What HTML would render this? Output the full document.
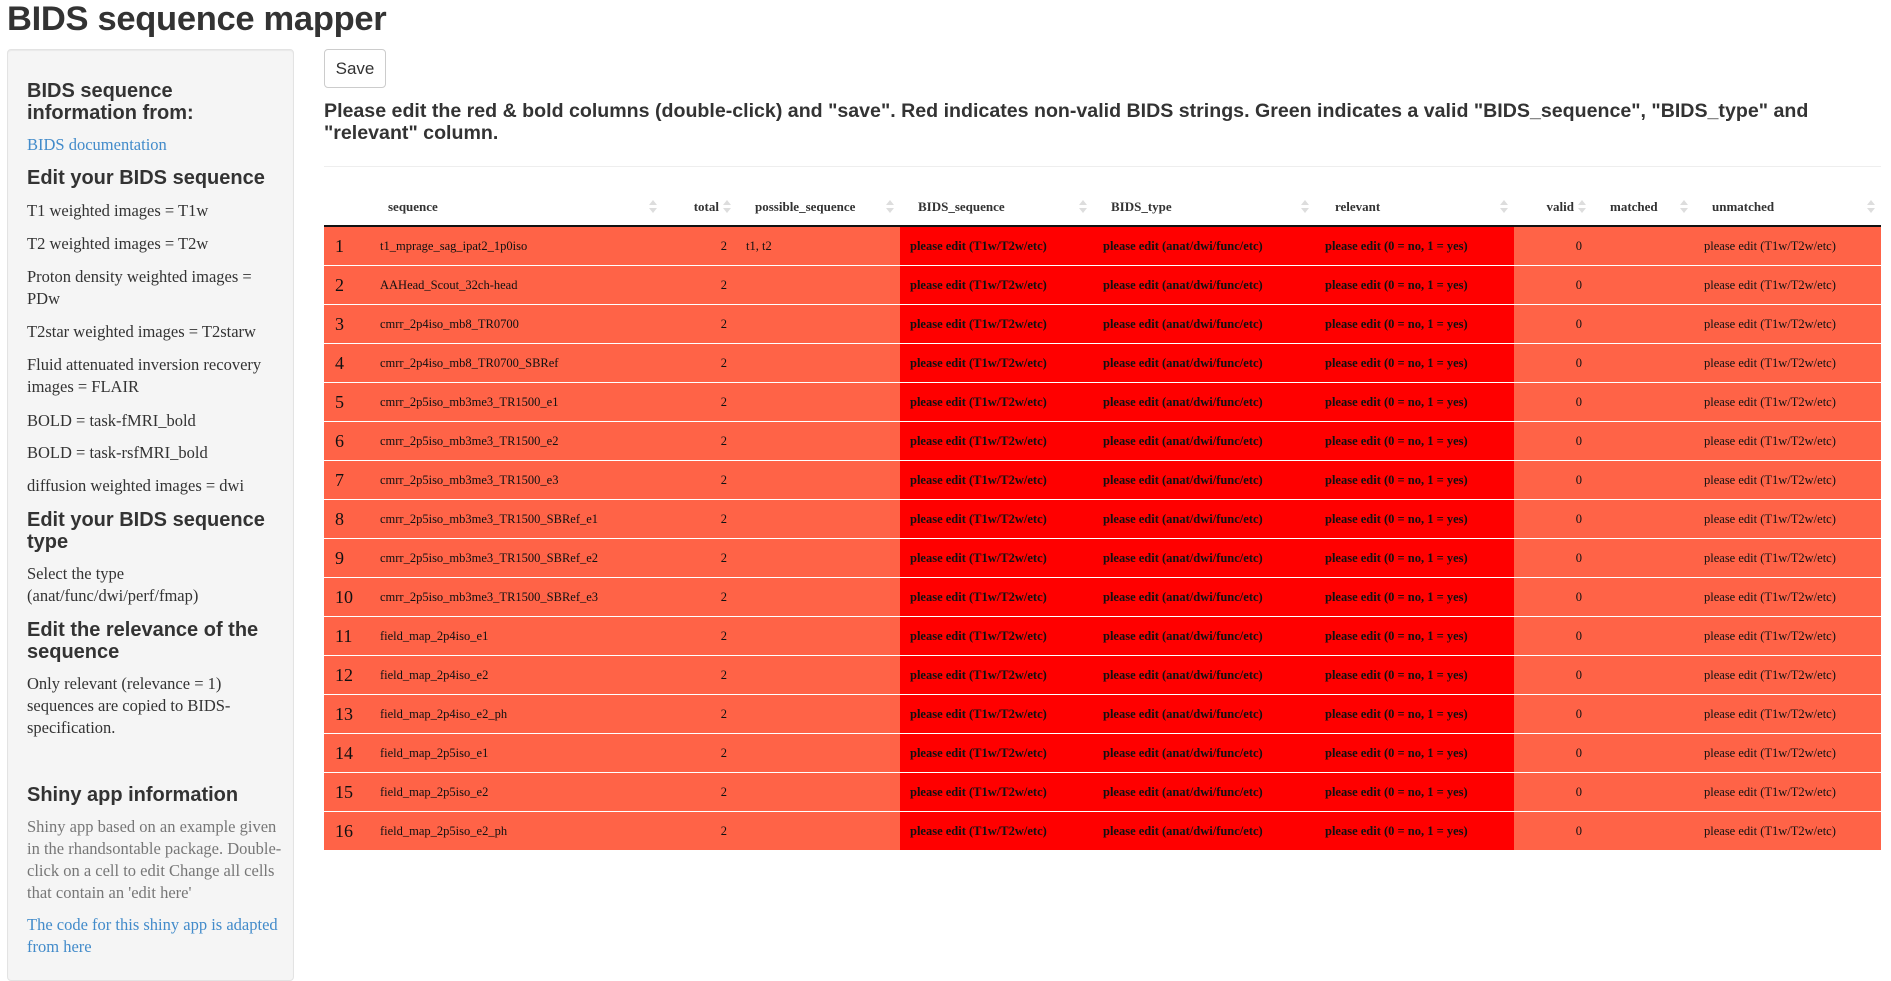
<!DOCTYPE html>
<html><head><meta charset="utf-8">
<style>
body{margin:0;width:1891px;height:962px;overflow:hidden;background:#fff;position:relative;font-family:"Liberation Sans",sans-serif;color:#333}
h1{position:absolute;left:7px;top:0px;margin:0;font-size:34.5px;font-weight:bold;color:#333;letter-spacing:-0.3px}
#side{position:absolute;left:7px;top:49px;width:285px;height:930px;background:#f5f5f5;border:1px solid #e3e3e3;border-radius:4px;box-shadow:inset 0 1px 1px rgba(0,0,0,.05)}
.sh{position:absolute;left:27px;font-weight:bold;font-size:20px;color:#333;line-height:22px;white-space:nowrap}
.st{position:absolute;left:27px;font-family:"Liberation Serif",serif;font-size:16.5px;line-height:22px;color:#333;white-space:nowrap}
.lk{color:#428bca}
.gr{color:#777}
#save{position:absolute;left:324px;top:49px;width:62px;height:39px;border:1px solid #ccc;border-radius:4px;background:#fff;font-size:17px;color:#333;box-sizing:border-box;text-align:center;line-height:37px}
#msg{position:absolute;left:324px;top:100px;width:1557px;font-size:19.6px;font-weight:bold;line-height:22px;color:#333}
#hr{position:absolute;left:324px;top:166px;width:1557px;height:1px;background:#eee}
table{position:absolute;left:324px;top:188px;border-collapse:collapse;table-layout:fixed;font-family:"Liberation Serif",serif;font-size:12.5px;color:#111}
th{height:37px;border-bottom:2px solid #111;font-weight:bold;text-align:left;padding:0;position:relative;font-size:13px;color:#333}
td{height:38px;border-top:1px solid #fff;background:#ff6347;padding:0;white-space:nowrap}
td.red{background:#ff0000;font-weight:bold}
.idx{font-size:18px;padding-left:11px}
.r{text-align:right}
.arr{position:absolute;top:12px;width:8px;height:14px}
.arr:before{content:"";position:absolute;left:0;top:0;border-left:4px solid transparent;border-right:4px solid transparent;border-bottom:5px solid #ddd}
.arr:after{content:"";position:absolute;left:0;top:8px;border-left:4px solid transparent;border-right:4px solid transparent;border-top:5px solid #ddd}
</style></head><body>
<h1>BIDS sequence mapper</h1>
<div id="side"></div>
<div class="sh" style="top:80px">BIDS sequence<br>information from:</div>
<div class="st lk" style="top:134px">BIDS documentation</div>
<div class="sh" style="top:167px">Edit your BIDS sequence</div>
<div class="st" style="top:200px">T1 weighted images = T1w</div>
<div class="st" style="top:233px">T2 weighted images = T2w</div>
<div class="st" style="top:266px">Proton density weighted images =<br>PDw</div>
<div class="st" style="top:321px">T2star weighted images = T2starw</div>
<div class="st" style="top:354px">Fluid attenuated inversion recovery<br>images = FLAIR</div>
<div class="st" style="top:410px">BOLD = task-fMRI_bold</div>
<div class="st" style="top:442px">BOLD = task-rsfMRI_bold</div>
<div class="st" style="top:475px">diffusion weighted images = dwi</div>
<div class="sh" style="top:509px">Edit your BIDS sequence<br>type</div>
<div class="st" style="top:563px">Select the type<br>(anat/func/dwi/perf/fmap)</div>
<div class="sh" style="top:619px">Edit the relevance of the<br>sequence</div>
<div class="st" style="top:673px">Only relevant (relevance = 1)<br>sequences are copied to BIDS-<br>specification.</div>
<div class="sh" style="top:784px">Shiny app information</div>
<div class="st gr" style="top:816px">Shiny app based on an example given<br>in the rhandsontable package. Double-<br>click on a cell to edit Change all cells<br>that contain an 'edit here'</div>
<div class="st lk" style="top:914px">The code for this shiny app is adapted<br>from here</div>

<div id="save">Save</div>
<div id="msg">Please edit the red &amp; bold columns (double-click) and "save". Red indicates non-valid BIDS strings. Green indicates a valid "BIDS_sequence", "BIDS_type" and<br>"relevant" column.</div>
<div id="hr"></div>

<table id="tbl">
<colgroup><col style="width:44px"><col style="width:295px"><col style="width:74px"><col style="width:163px"><col style="width:193px"><col style="width:222px"><col style="width:199px"><col style="width:78px"><col style="width:102px"><col style="width:187px"></colgroup>
<thead><tr id="hrow"></tr></thead><tbody id="tb"></tbody></table>
<script>
const headers=["","sequence","total","possible_sequence","BIDS_sequence","BIDS_type","relevant","valid","matched","unmatched"];
const headerPad=[0,20,0,18,18,18,20,0,18,18];
const sequences=["t1_mprage_sag_ipat2_1p0iso","AAHead_Scout_32ch-head","cmrr_2p4iso_mb8_TR0700","cmrr_2p4iso_mb8_TR0700_SBRef","cmrr_2p5iso_mb3me3_TR1500_e1","cmrr_2p5iso_mb3me3_TR1500_e2","cmrr_2p5iso_mb3me3_TR1500_e3","cmrr_2p5iso_mb3me3_TR1500_SBRef_e1","cmrr_2p5iso_mb3me3_TR1500_SBRef_e2","cmrr_2p5iso_mb3me3_TR1500_SBRef_e3","field_map_2p4iso_e1","field_map_2p4iso_e2","field_map_2p4iso_e2_ph","field_map_2p5iso_e1","field_map_2p5iso_e2","field_map_2p5iso_e2_ph"];
const totals=[2,2,2,2,2,2,2,2,2,2,2,2,2,2,2,2];
const possible=["t1, t2","","","","","","","","","","","","","","",""];
const hr=document.getElementById('hrow');
const widths=[44,295,74,163,193,222,199,78,102,187];
headers.forEach((h,i)=>{
  const th=document.createElement('th');
  
  
  if(i==2||i==7){th.style.textAlign='right';th.style.paddingRight='18px';}
  else th.style.paddingLeft=headerPad[i]+'px';
  th.textContent=h;
  if(i>0){const a=document.createElement('span');a.className='arr';a.style.left=(widths[i]-14)+'px';
  
  
  th.appendChild(a);}
  hr.appendChild(th);
});
const tb=document.getElementById('tb');
sequences.forEach((s,k)=>{
  const tr=document.createElement('tr');
  
  
  const cells=[[String(k+1),'idx'],[s,''],[String(totals[k]),'r'],[possible[k],''],['please edit (T1w/T2w/etc)','red'],['please edit (anat/dwi/func/etc)','red'],['please edit (0 = no, 1 = yes)','red'],['0','r'],['',''],['please edit (T1w/T2w/etc)','']];
  const pads=[0,12,0,9,10,10,10,0,0,10];
  cells.forEach((c,i)=>{
    const td=document.createElement('td');
    
    
    td.textContent=c[0];
    if(c[1])td.className=c[1];
    if(i==2)td.style.paddingRight='10px';
    if(i==7)td.style.paddingRight='10px';
    if(pads[i])td.style.paddingLeft=pads[i]+'px';
    tr.appendChild(td);
  });
  tb.appendChild(tr);
});
</script>
</body></html>
